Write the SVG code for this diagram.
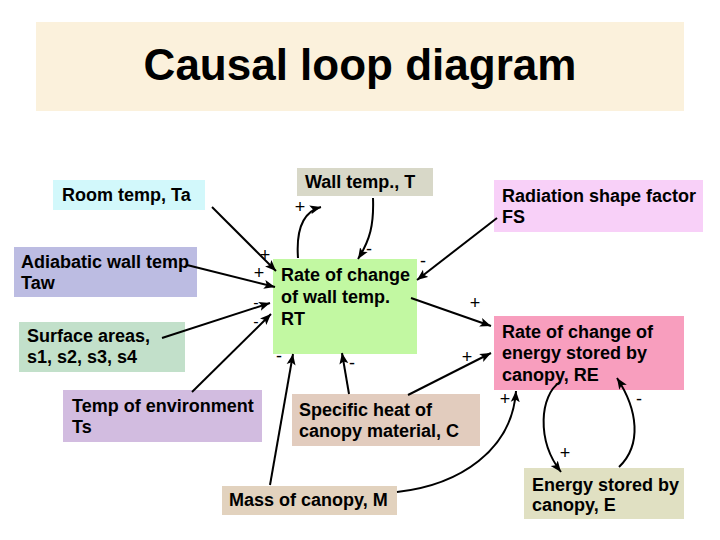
<svg xmlns="http://www.w3.org/2000/svg" width="720" height="540" viewBox="0 0 720 540">
<style>
.lbl{font-family:"Liberation Sans",Arial,sans-serif;font-weight:bold;font-size:18px;fill:#000}
.sg{font-family:"Liberation Sans",Arial,sans-serif;font-size:18px;fill:#000;text-anchor:middle}
.sm{font-family:"Liberation Sans",Arial,sans-serif;font-size:16px;fill:#000;text-anchor:middle}
.c{fill:none;stroke:#000;stroke-width:2;marker-end:url(#ah)}
</style>
<defs>
<marker id="ah" markerUnits="userSpaceOnUse" markerWidth="12" markerHeight="10" refX="11" refY="5" orient="auto">
<path d="M0,0.5 L11,5 L0,9.5 L2.5,5 Z" fill="#000"/>
</marker>
</defs>
<rect width="720" height="540" fill="#fff"/>
<g id="title">
<rect x="36" y="22" width="648" height="89" fill="#FBF1DC"/>
<text x="360" y="80" text-anchor="middle" style="font-family:'Liberation Sans',Arial,sans-serif;font-weight:bold;font-size:44px">Causal loop diagram</text>
</g>
<g id="n-roomtemp"><rect x="53" y="180" width="152" height="30" fill="#D2F8FB"/><text class="lbl" x="62" y="201">Room temp, Ta</text></g>
<g id="n-walltemp"><rect x="297" y="168" width="136" height="28" fill="#D8D8C8"/><text class="lbl" x="305" y="188">Wall temp., T</text></g>
<g id="n-fs"><rect x="494" y="180" width="209" height="52" fill="#F8D0F8"/><text class="lbl" x="502" y="202">Radiation shape factor</text><text class="lbl" x="502" y="223">FS</text></g>
<g id="n-adiabatic"><rect x="14" y="247" width="183" height="50" fill="#BCBCE2"/><text class="lbl" x="21" y="268">Adiabatic wall temp</text><text class="lbl" x="21" y="289">Taw</text></g>
<g id="n-rt"><rect x="273" y="259" width="144" height="95" fill="#C2F8A2"/><text class="lbl" x="281" y="281">Rate of change</text><text class="lbl" x="281" y="303">of wall temp.</text><text class="lbl" x="281" y="325">RT</text></g>
<g id="n-surface"><rect x="19" y="322" width="166" height="50" fill="#C2E0CA"/><text class="lbl" x="27" y="342">Surface areas,</text><text class="lbl" x="27" y="363">s1, s2, s3, s4</text></g>
<g id="n-tempenv"><rect x="63" y="390" width="199" height="52" fill="#D2BCE0"/><text class="lbl" x="72" y="412">Temp of environment</text><text class="lbl" x="72" y="433">Ts</text></g>
<g id="n-specheat"><rect x="292" y="394" width="188" height="52" fill="#E2CCBE"/><text class="lbl" x="299" y="416">Specific heat of</text><text class="lbl" x="299" y="437">canopy material, C</text></g>
<g id="n-mass"><rect x="222" y="486" width="175" height="29" fill="#E2D2BE"/><text class="lbl" x="229" y="506">Mass of canopy, M</text></g>
<g id="n-re"><rect x="494" y="316" width="190" height="74" fill="#F89EBE"/><text class="lbl" x="502" y="338">Rate of change of</text><text class="lbl" x="502" y="359">energy stored by</text><text class="lbl" x="502" y="381">canopy, RE</text></g>
<g id="n-energy"><rect x="524" y="468" width="160" height="51" fill="#E0E0C2"/><text class="lbl" x="532" y="491">Energy stored by</text><text class="lbl" x="532" y="511">canopy, E</text></g>
<g id="connectors">
<path class="c" d="M212,207 L276,271"/>
<path class="c" d="M187,265 L275,287"/>
<path class="c" d="M162,338 L270,303"/>
<path class="c" d="M192,392 L271,314"/>
<path class="c" d="M373,198 C374,225 370,240 358,259"/>
<path class="c" d="M298,258 C296,230 302,212 321,207"/>
<path class="c" d="M497,218 L417,280"/>
<path class="c" d="M411,298 L491,326"/>
<path class="c" d="M408,395 L491,353"/>
<path class="c" d="M349,394 L342,353"/>
<path class="c" d="M270,485 L293,354"/>
<path class="c" d="M397,492 C460,485 512,450 516,391"/>
<path class="c" d="M560,382 C540,395 536,440 561,472"/>
<path class="c" d="M619,467 C642,445 638,410 617,378"/>
</g>
<g id="signs">
<text class="sg" x="300" y="213">+</text>
<text class="sg" x="369" y="255">-</text>
<text class="sg" x="265" y="261">+</text>
<text class="sg" x="259" y="279">+</text>
<text class="sg" x="423" y="267">-</text>
<text class="sm" x="256" y="308">-</text>
<text class="sm" x="256" y="327">-</text>
<text class="sg" x="475" y="309">+</text>
<text class="sg" x="279" y="362">-</text>
<text class="sg" x="352" y="369">-</text>
<text class="sg" x="467" y="363">+</text>
<text class="sg" x="505" y="405">+</text>
<text class="sg" x="639" y="405">-</text>
<text class="sg" x="565" y="459">+</text>
</g>
</svg>
